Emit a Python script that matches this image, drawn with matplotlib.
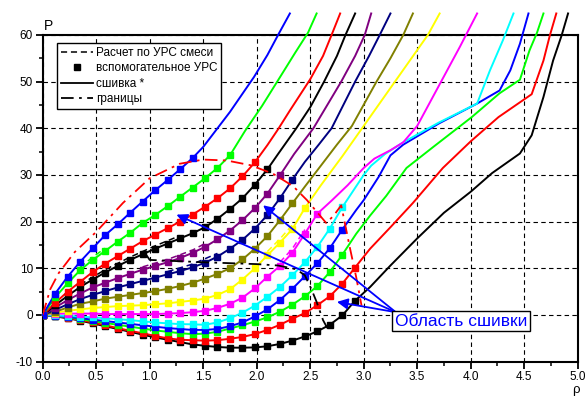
import matplotlib
matplotlib.use('Agg')
import matplotlib.pyplot as plt

plt.rcParams['font.family'] = ['Liberation Sans', 'DejaVu Sans']
plt.rcParams['axes.unicode_minus'] = False

# density grid of the auxiliary EOS points
rho_grid = [0.0, 0.117, 0.233, 0.35, 0.467, 0.583, 0.7, 0.817, 0.933, 1.05,
            1.167, 1.283, 1.4, 1.517, 1.633, 1.75, 1.867, 1.983, 2.1, 2.217,
            2.333, 2.45, 2.567, 2.683, 2.8, 2.917]

colors = ['#0000FF', '#00FF00', '#FF0000', '#000000', '#800080', '#000080',
          '#808000', '#FFFF00', '#FF00FF', '#00FFFF', '#0000FF', '#00FF00',
          '#FF0000', '#000000']

# auxiliary EOS pressure, one list per isotherm (hottest first)
p_aux = [
    [0, 4.6, 8.2, 11.4, 14.3, 17.1, 19.4, 21.9, 24.3, 26.7, 28.9, 31.2, 33.6],
    [0, 3.8, 6.8, 9.6, 11.8, 13.7, 15.7, 17.6, 19.7, 21.4, 23.3, 25.3, 27.3,
     29.3, 31.5, 34.2],
    [0, 2.6, 5.0, 7.1, 9.2, 11.0, 12.6, 14.2, 15.8, 17.2, 18.6, 20.0, 21.5,
     23.2, 25.0, 27.1, 29.7, 32.7],
    [0, 2.1, 4.1, 6.0, 7.6, 9.1, 10.5, 11.8, 13.0, 14.2, 15.3, 16.4, 17.5,
     18.8, 20.6, 22.7, 25.0, 27.9, 31.2],
    [0, 1.6, 3.2, 4.6, 5.9, 6.9, 7.9, 8.8, 9.7, 10.5, 11.3, 12.2, 13.3, 14.6,
     16.2, 18.1, 20.3, 22.9, 26.0, 29.9],
    [0, 1.1, 2.3, 3.4, 4.3, 5.1, 5.9, 6.6, 7.3, 8.0, 8.7, 9.4, 10.2, 11.2,
     12.5, 14.2, 16.1, 18.5, 21.4, 25.0, 29.0],
    [0, 0.7, 1.6, 2.4, 2.9, 3.5, 3.9, 4.3, 4.7, 5.1, 5.6, 6.2, 6.9, 7.8, 8.8,
     10.0, 11.9, 14.2, 16.9, 20.3, 23.9],
    [0, 0.5, 0.9, 1.2, 1.5, 1.7, 1.9, 2.0, 2.1, 2.3, 2.5, 2.8, 3.1, 3.5, 4.3,
     5.5, 7.6, 10.0, 12.8, 15.5, 18.4, 22.9],
    [0, 0.3, 0.3, 0.3, 0.3, 0.2, 0.2, 0.2, 0.2, 0.2, 0.3, 0.4, 0.6, 0.9, 1.5,
     2.4, 3.7, 5.7, 8.2, 10.5, 13.3, 17.4, 21.7],
    [0, -0.1, -0.2, -0.35, -0.5, -0.7, -0.9, -1.1, -1.35, -1.6, -1.8, -1.95,
     -2.0, -2.1, -1.6, -0.7, 0.5, 2.0, 3.9, 6.0, 8.5, 11.3, 14.6, 18.5, 23.1],
    [0, -0.2, -0.4, -0.7, -1.0, -1.3, -1.6, -1.9, -2.2, -2.5, -2.8, -3.0,
     -3.2, -3.2, -3.0, -2.4, -1.6, -0.3, 1.2, 3.2, 5.6, 8.3, 11.1, 14.3, 18.3],
    [0, -0.2, -0.5, -0.9, -1.3, -1.7, -2.1, -2.5, -2.9, -3.3, -3.6, -3.9,
     -4.1, -4.0, -3.6, -2.9, -2.2, -1.4, -0.5, 0.7, 2.2, 4.0, 6.2, 9.2, 12.9],
    [0, -0.2, -0.6, -1.1, -1.6, -2.2, -2.8, -3.4, -3.9, -4.5, -5.0, -5.3,
     -5.4, -5.5, -5.4, -5.1, -4.7, -4.1, -3.2, -2.1, -0.8, 0.4, 2.1, 4.0, 6.7,
     10.1],
    [0, -0.3, -0.7, -1.2, -1.8, -2.4, -3.0, -3.6, -4.2, -4.8, -5.3, -5.8,
     -6.3, -6.6, -6.85, -7.0, -7.0, -6.95, -6.7, -6.2, -5.5, -4.6, -3.5, -2.1,
     -0.1, 3.0],
]

# stitched isotherm beyond the last auxiliary point: (rho, P)
p_stitch = [
    [(1.5, 36.0), (1.62, 39.6), (1.75, 43.5), (1.87, 47.5), (1.975, 51.0),
     (2.1, 55.7), (2.2, 60.0), (2.31, 64.6)],
    [(1.89, 39.4), (2.05, 44.8), (2.2, 50.3), (2.36, 56.2), (2.48, 60.5),
     (2.56, 64.6)],
    [(2.1, 36.4), (2.2, 39.8), (2.31, 43.8), (2.5, 50.5), (2.62, 55.5),
     (2.7, 60.0), (2.78, 64.6)],
    [(2.2, 34.5), (2.37, 40.0), (2.5, 44.5), (2.63, 50.0), (2.75, 55.5),
     (2.83, 60.0), (2.92, 64.6)],
    [(2.35, 34.5), (2.53, 40.0), (2.66, 45.0), (2.79, 50.0), (2.92, 55.5),
     (3.01, 60.0), (3.07, 64.6)],
    [(2.45, 32.8), (2.58, 36.5), (2.7, 40.0), (2.92, 50.0), (3.05, 55.5),
     (3.15, 60.0), (3.25, 64.6)],
    [(2.45, 27.5), (2.6, 32.0), (2.75, 36.5), (2.89, 40.5), (3.12, 50.0),
     (3.25, 55.0), (3.37, 60.0), (3.46, 64.6)],
    [(2.6, 27.8), (2.8, 34.0), (3.0, 40.5), (3.2, 47.0), (3.4, 53.5),
     (3.6, 60.0), (3.71, 64.6)],
    [(2.7, 24.5), (2.85, 27.8), (3.0, 31.5), (3.1, 33.5), (3.25, 35.3),
     (3.37, 37.0), (3.5, 40.5), (3.7, 49.0), (3.9, 57.5), (4.06, 64.6)],
    [(2.87, 25.5), (3.0, 30.0), (3.07, 32.0), (3.2, 34.5), (3.37, 37.0),
     (3.7, 41.2), (4.06, 45.3), (4.18, 52.4), (4.3, 58.8), (4.4, 64.6)],
    [(2.93, 22.5), (3.0, 24.6), (3.14, 29.6), (3.25, 34.2), (3.37, 36.5),
     (3.7, 41.0), (4.06, 45.3), (4.27, 48.1), (4.37, 52.4), (4.46, 58.1),
     (4.54, 64.6)],
    [(2.93, 17.4), (3.06, 21.3), (3.21, 25.5), (3.4, 31.5), (3.65, 36.0),
     (4.01, 42.4), (4.27, 47.5), (4.46, 50.4), (4.55, 56.7), (4.62, 60.5),
     (4.68, 64.6)],
    [(3.06, 14.2), (3.25, 18.8), (3.46, 24.0), (3.74, 31.5), (4.0, 37.2),
     (4.26, 42.4), (4.57, 47.3), (4.68, 54.5), (4.74, 59.9), (4.8, 64.6)],
    [(3.06, 6.0), (3.25, 10.6), (3.5, 16.4), (3.75, 21.9), (4.0, 26.4),
     (4.2, 30.4), (4.46, 34.6), (4.57, 38.5), (4.68, 46.7), (4.77, 54.5),
     (4.85, 59.9), (4.91, 64.6)],
]

# mixture EOS pieces: (isotherm index, rho list, P list)
mix_curves = [
    (1, [0.35, 0.467, 0.583], [10.2, 12.4, 14.3]),
    (3, [0.35, 0.583, 0.817, 1.05, 1.283], [6.5, 9.7, 12.4, 14.8, 17.0]),
    (4, [0.933, 1.167, 1.4, 1.517], [10.3, 11.9, 13.9, 15.3]),
    (5, [1.167, 1.4, 1.633], [9.3, 10.9, 13.2]),
    (7, [2.1, 2.217, 2.333], [13.6, 16.3, 19.3]),
    (8, [2.217, 2.333, 2.45], [11.3, 14.2, 18.3]),
]

# phase region boundaries
upper_rho = [0, 0.07, 0.15, 0.3, 0.5, 0.75, 1.0, 1.28, 1.5, 1.72, 1.94, 2.15,
             2.34, 2.47, 2.58, 2.65, 2.72, 2.79, 2.87, 2.93, 2.98]
upper_p = [0, 5.5, 9.0, 13.5, 17.8, 24.0, 29.3, 32.4, 33.3, 33.1, 32.1, 30.3,
           27.6, 24.6, 21.6, 19.7, 21.3, 23.5, 14.5, 8.1, 2.0]
lower_rho = [0.97, 1.0, 1.5, 2.0, 2.2, 2.37, 2.45, 2.51, 2.56, 2.62, 2.66]
lower_p = [12.8, 11.8, 11.3, 10.9, 10.6, 9.8, 8.5, 5.6, 2.8, -1.1, -2.8]

# stitching area annotation
note_xy = (3.3, 0.6)
note_targets = [(1.25, 21.5), (2.06, 23.5), (2.75, 2.8)]

fig = plt.figure(figsize=(5.85, 3.97), dpi=100)
ax = fig.add_axes([0.073, 0.089, 0.9145, 0.823])

for i in range(len(p_aux) - 1, -1, -1):
    pa = p_aux[i]
    ra = rho_grid[:len(pa)]
    rs = [r for r, p in p_stitch[i]]
    ps = [p for r, p in p_stitch[i]]
    ax.plot(ra + rs, pa + ps, '-', color=colors[i], lw=1.4, clip_on=False,
            zorder=3)
    ax.plot(ra, pa, 's', color=colors[i], ms=4.1, mec=colors[i], zorder=4)

for i, r, p in mix_curves:
    ax.plot(r, p, '--', color=colors[i], lw=1.1, dashes=(4, 2.5), zorder=3)

ax.plot(upper_rho, upper_p, color='red', lw=1.3, dashes=(7, 3, 1.5, 3),
        zorder=5)
ax.plot(lower_rho, lower_p, color='black', lw=1.3, dashes=(7, 3, 1.5, 3),
        zorder=5)

for tx, ty in note_targets:
    ax.annotate('', xy=(tx, ty), xytext=note_xy,
                arrowprops=dict(arrowstyle='-|>', color='blue', lw=1.3,
                                mutation_scale=16, shrinkA=0, shrinkB=0),
                zorder=6)
ax.text(3.91, -1.3, 'Область сшивки', color='blue', fontsize=12.5,
        ha='center', va='center', zorder=7,
        bbox=dict(boxstyle='square,pad=0.15', fc='white', ec='black',
                  lw=1.0))

# legend proxies
ax.plot([], [], '--', color='black', lw=1.1, dashes=(4, 2.5),
        label='Расчет по УРС смеси')
ax.plot([], [], 's', color='black', ms=4.3, label='вспомогательное УРС')
ax.plot([], [], '-', color='black', lw=1.3, label='сшивка *')
ax.plot([], [], color='black', lw=1.3, dashes=(7, 3, 1.5, 3), label='границы')
handles, labels = ax.get_legend_handles_labels()
leg = ax.legend(handles[-4:], labels[-4:], loc='upper left',
                bbox_to_anchor=(0.027, 0.975), fontsize=8.5, frameon=True,
                fancybox=False, edgecolor='black', framealpha=1,
                handlelength=2.7, handletextpad=0.3, borderpad=0.3,
                labelspacing=0.3, borderaxespad=0)
leg.get_frame().set_linewidth(1.0)
leg.set_zorder(8)

ax.set_xlim(0, 5)
ax.set_ylim(-10, 60)
ax.set_xticks([0, 0.5, 1, 1.5, 2, 2.5, 3, 3.5, 4, 4.5, 5])
ax.set_xticklabels(['0.0', '0.5', '1.0', '1.5', '2.0', '2.5', '3.0', '3.5',
                    '4.0', '4.5', '5.0'])
ax.set_yticks([-10, 0, 10, 20, 30, 40, 50, 60])
ax.set_xticks([0.25 + 0.5 * k for k in range(10)], minor=True)
ax.set_yticks([-5, 5, 15, 25, 35, 45, 55], minor=True)
ax.tick_params(which='major', direction='out', length=5, width=1.3,
               labelsize=8.5, pad=2)
ax.tick_params(which='minor', direction='out', length=3, width=1.1)
ax.grid(True, which='major', color='black', ls=(0, (4, 3)), lw=0.8)
for s in ax.spines.values():
    s.set_linewidth(1.5)
    s.set_zorder(2)

fig.text(49 / 585, 1 - 25.5 / 397, 'P', fontsize=10, ha='center',
         va='center')
fig.text(576 / 585, 1 - 390 / 397, 'ρ', fontsize=9.5, ha='center',
         va='center')

fig.savefig('out.png', dpi=100)
